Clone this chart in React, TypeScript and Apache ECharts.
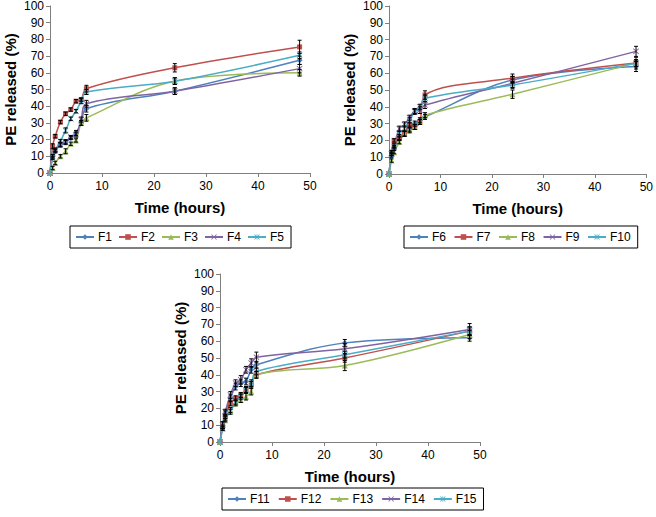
import React, { useEffect, useRef } from "react";
import * as echarts from "echarts";

const TIMES = [0, 0.5, 1, 2, 3, 4, 5, 6, 7, 24, 48];
const X_TICKS = [0, 10, 20, 30, 40, 50];

const NAMES_A = ["F1", "F2", "F3", "F4", "F5"];
const F1 = [0, 10, 13, 17, 18.5, 21, 24, 30, 38.5, 49, 67.5];
const F2 = [0, 16, 22, 30.5, 35.5, 38, 43, 44, 50.5, 63, 75.5];
const F3 = [0, 3, 6, 10, 13, 17.5, 19.5, 30, 33, 55, 60];
const F4 = [0, 9, 14, 17, 18.5, 21.5, 23, 32, 41.5, 49, 62.5];
const F5 = [0, 10, 13.5, 19, 25.5, 32.5, 37, 43, 48.5, 55, 70.5];
const E1 = [0, 1, 1, 1, 1, 1, 1.5, 1.5, 2, 2, 2.5];
const E2 = [0, 1.5, 1, 1, 1, 1, 1, 1, 2, 2.5, 4];
const E3 = [0, 1, 1, 1, 1.5, 1, 1, 1.5, 2, 2, 2];
const E4 = [0, 1, 1, 1.5, 1.5, 1, 1.5, 1.5, 2, 2, 2.5];
const E5 = [0, 1, 1, 1, 1.5, 1, 1, 1.5, 1.5, 2, 2];

const NAMES_B = ["F6", "F7", "F8", "F9", "F10"];
const F6 = [0, 11, 15, 22, 24, 27, 30, 32, 34, 56, 64];
const F7 = [0, 13, 20, 21, 24, 29, 28, 31, 47, 57, 66];
const F8 = [0, 8, 13, 19, 24, 26, 28, 31, 35, 47.5, 66];
const F9 = [0, 12, 17, 27, 29.5, 33.5, 37.5, 38, 41, 54, 73];
const F10 = [0, 12, 16, 24, 27, 32, 37, 40, 45, 53, 66];
const E6 = [0, 1, 1, 1.5, 1.5, 1.5, 1.5, 1.5, 1.5, 2, 3];
const E7 = [0, 1, 1, 1, 1.5, 1.5, 1.5, 1.5, 2.5, 2.5, 2];
const E8 = [0, 1, 1, 1, 1.5, 1.5, 1.5, 1.5, 1.5, 2.5, 2];
const E9 = [0, 1, 1, 1.5, 1.5, 1.5, 1.5, 2, 2, 2.5, 3];
const E10 = [0, 1, 1, 1.5, 1.5, 1.5, 1.5, 1.5, 2, 2, 3.5];

const NAMES_C = ["F11", "F12", "F13", "F14", "F15"];
const F11 = [0, 10, 17, 26, 33, 35, 36, 43, 46, 59, 62];
const F12 = [0, 9, 15, 23, 26, 28, 31, 34, 40, 50, 66];
const F13 = [0, 8, 13, 19, 23, 25, 27, 30, 40, 45.5, 64];
const F14 = [0, 10, 18, 28, 35, 37, 43, 47, 50.5, 55.5, 67];
const F15 = [0, 8, 14, 18, 24, 27, 31, 35, 42, 52, 66];
const E11 = [0, 2, 1.5, 2, 2, 2, 2, 2, 2, 2, 2];
const E12 = [0, 1, 1, 1.5, 1.5, 1.5, 2, 2, 2, 2.5, 2.5];
const E13 = [0, 1, 1, 1.5, 1.5, 1.5, 2, 2, 2, 3, 2.5];
const E14 = [0, 2, 1.5, 2, 2, 2.5, 2, 2.5, 3, 3, 3.5];
const E15 = [0, 1, 1, 1.5, 1.5, 1.5, 1.5, 2, 2, 2, 2.5];

const COLORS = ["#4F81BD", "#C0504D", "#9BBB59", "#8064A2", "#4BACC6"];
const X_PATH = "path://M0,1L1,0L5,4L9,0L10,1L6,5L10,9L9,10L5,6L1,10L0,9L4,5Z";
const STAR_PATH =
  "path://M0,1L1,0L5,4L9,0L10,1L6,5L10,9L9,10L5,6L1,10L0,9L4,5ZM4.4,0L5.6,0L5.6,10L4.4,10Z";
const SYMBOLS = ["diamond", "rect", "triangle", X_PATH, STAR_PATH];
const SYMBOL_SIZES = [6, 5, 6, 6, 6];

const FONT = 'Arial, "Liberation Sans", sans-serif';

const PANELS = [
  { names: NAMES_A, values: [F1, F2, F3, F4, F5], errors: [E1, E2, E3, E4, E5] },
  { names: NAMES_B, values: [F6, F7, F8, F9, F10], errors: [E6, E7, E8, E9, E10] },
  { names: NAMES_C, values: [F11, F12, F13, F14, F15], errors: [E11, E12, E13, E14, E15] },
];

const GRIDS = [
  { left: 50, right: 346, top: 5, bottom: 344 },
  { left: 389, right: 7, top: 6, bottom: 343 },
  { left: 220, right: 176, top: 274, bottom: 75 },
];
const LEGENDS = [
  { left: 70, top: 226, gap: 6 },
  { left: 404, top: 226, gap: 7.5 },
  { left: 222, top: 488, gap: 8 },
];

export default function App() {
  const ref = useRef<HTMLDivElement>(null);
  useEffect(() => {
    if (!ref.current) return;
    const chart = echarts.init(ref.current, null, { renderer: "svg" });
    const axisLine = { lineStyle: { color: "#7f7f7f", width: 1 } };
    const xAxis: any[] = [];
    const yAxis: any[] = [];
    const series: any[] = [];
    const legend: any[] = [];
    PANELS.forEach((p, gi) => {
      xAxis.push({
        gridIndex: gi,
        type: "value",
        min: X_TICKS[0],
        max: X_TICKS[X_TICKS.length - 1],
        interval: 10,
        name: "Time (hours)",
        nameLocation: "middle",
        nameGap: 27,
        nameTextStyle: { fontFamily: FONT, fontSize: 15, fontWeight: "bold", color: "#000" },
        axisLine,
        axisTick: { show: true, length: 4, lineStyle: { color: "#7f7f7f" } },
        axisLabel: { fontFamily: FONT, fontSize: 12, color: "#000", margin: 7 },
        splitLine: { show: false },
      });
      yAxis.push({
        gridIndex: gi,
        type: "value",
        min: 0,
        max: 100,
        interval: 10,
        name: "PE released (%)",
        nameLocation: "middle",
        nameGap: 32,
        nameTextStyle: { fontFamily: FONT, fontSize: 15, fontWeight: "bold", color: "#000" },
        axisLine: { show: true, ...axisLine },
        axisTick: { show: true, length: 4, lineStyle: { color: "#7f7f7f" } },
        axisLabel: { fontFamily: FONT, fontSize: 12, color: "#000", margin: 6 },
        splitLine: { show: false },
      });
      const errData: any[] = [];
      p.names.forEach((name, si) => {
        series.push({
          type: "line",
          name,
          xAxisIndex: gi,
          yAxisIndex: gi,
          smooth: 0.35,
          data: TIMES.map((t, i) => [t, p.values[si][i]]),
          symbol: SYMBOLS[si],
          symbolSize: SYMBOL_SIZES[si],
          showSymbol: true,
          lineStyle: { color: COLORS[si], width: 1.5 },
          itemStyle: { color: COLORS[si] },
          z: 2,
        });
        TIMES.forEach((t, i) => {
          const v = p.values[si][i];
          const e = p.errors[si][i];
          if (e > 0) errData.push([t, v - e, v + e]);
        });
      });
      series.push({
        type: "custom",
        xAxisIndex: gi,
        yAxisIndex: gi,
        data: errData,
        z: 3,
        silent: true,
        renderItem: (params: any, api: any) => {
          const x = api.value(0);
          const lo = api.coord([x, api.value(1)]);
          const hi = api.coord([x, api.value(2)]);
          const w = 2;
          const style = { stroke: "#000", lineWidth: 1 };
          return {
            type: "group",
            children: [
              { type: "line", shape: { x1: lo[0], y1: lo[1], x2: hi[0], y2: hi[1] }, style },
              { type: "line", shape: { x1: lo[0] - w, y1: lo[1], x2: lo[0] + w, y2: lo[1] }, style },
              { type: "line", shape: { x1: hi[0] - w, y1: hi[1], x2: hi[0] + w, y2: hi[1] }, style },
            ],
          };
        },
      });
      legend.push({
        data: p.names,
        left: LEGENDS[gi].left,
        top: LEGENDS[gi].top,
        orient: "horizontal",
        borderColor: "#000",
        borderWidth: 1,
        borderRadius: 0,
        padding: [5, 7, 5, 5],
        itemGap: LEGENDS[gi].gap,
        itemWidth: 18,
        itemHeight: 7,
        textStyle: { fontFamily: FONT, fontSize: 12, color: "#000", padding: [0, 0, 0, -1] },
      });
    });
    chart.setOption({
      animation: false,
      backgroundColor: "#fff",
      grid: GRIDS.map((g) => ({ ...g, containLabel: false })),
      xAxis,
      yAxis,
      legend,
      series,
    });
    return () => chart.dispose();
  }, []);
  return <div ref={ref} style={{ width: 656, height: 517, position: "absolute", left: 0, top: 0 }} />;
}
